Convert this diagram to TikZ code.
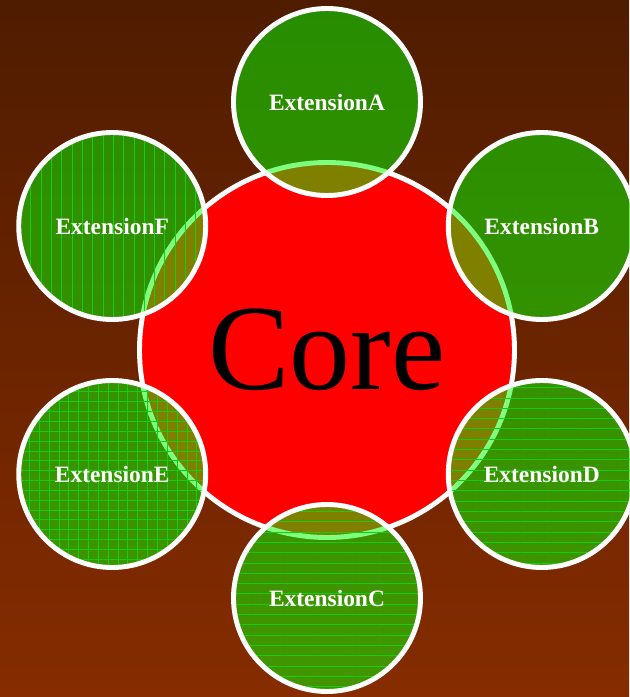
\documentclass[tikz,border=0pt]{standalone}
\usepackage{fontspec}
\setmainfont{Liberation Serif}
\definecolor{bgtop}{HTML}{4F1C00}
\definecolor{bgbottom}{HTML}{862C00}
\definecolor{corered}{HTML}{FF0000}
\definecolor{extgreen}{HTML}{00FF00}
\definecolor{hatchgreen}{HTML}{10D010}
\usetikzlibrary{patterns.meta}
\tikzset{
  corebox/.style={
    circle, draw=white, fill=corered, line width=2.1pt,
    minimum size=5.625cm, inner sep=0pt,
    font=\fontsize{52}{60}\selectfont, text=black
  },
  ext/.style={
    circle, draw=white, line width=2.1pt,
    minimum size=2.805cm, inner sep=0pt,
    fill=extgreen, fill opacity=0.5, text opacity=1,
    font=\fontsize{10}{12}\selectfont\bfseries, text=white
  },
  extpat/.style={
    ext, preaction={fill=extgreen, fill opacity=0.5},
    pattern={#1}, pattern color=hatchgreen
  },
}

\begin{document}
\begin{tikzpicture}
  % Background
  \fill[top color=bgtop, bottom color=bgbottom]
    (-4.905,-5.205) rectangle (4.53,5.25);
  \useasboundingbox (-4.905,-5.205) rectangle (4.53,5.25);

  % Core
  \node[corebox] (core) at (0,0) {Core};

  % Extensions
  \node[ext] (extA) at (90:3.72) {ExtensionA};
  \node[ext] (extB) at (30:3.72) {ExtensionB};
  \node[extpat={Lines[angle=0,distance=4.4pt,line width=0.4pt]}]
    (extC) at (-90:3.72) {ExtensionC};
  \node[extpat={Lines[angle=0,distance=4.4pt,line width=0.4pt]}]
    (extD) at (-30:3.72) {ExtensionD};
  \node[extpat={Hatch[angle=0,distance=4.2pt,line width=0.4pt]}]
    (extE) at (210:3.72) {ExtensionE};
  \node[extpat={Lines[angle=90,distance=4.4pt,line width=0.4pt]}]
    (extF) at (150:3.72) {ExtensionF};
\end{tikzpicture}
\end{document}
